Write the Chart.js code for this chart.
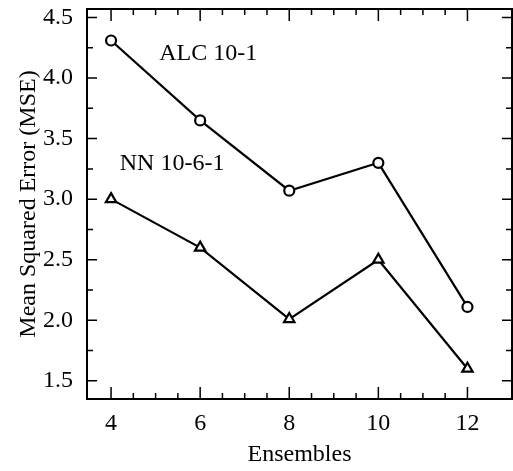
<!DOCTYPE html>
<html>
<head>
<meta charset="utf-8">
<script src="https://cdn.jsdelivr.net/npm/chart.js"></script>
<style>
  html, body { margin: 0; padding: 0; background: #fff; overflow: hidden; }
  canvas { display: block; }
</style>
</head>
<body>
<canvas id="mseChart" width="513" height="471"></canvas>
<script>
// data
const ensembles = [4, 6, 8, 10, 12];
const alcMse = [4.31, 3.65, 3.07, 3.30, 2.11];
const nnMse = [3.00, 2.60, 2.01, 2.50, 1.60];
const xTicks = [4, 6, 8, 10, 12];
const yTicks = [1.5, 2.0, 2.5, 3.0, 3.5, 4.0, 4.5];
const seriesNames = ["ALC 10-1", "NN 10-6-1"];

const serif = '"Liberation Serif", "Times New Roman", serif';

function toPoints(ys) {
  return ensembles.map((e, i) => ({ x: e, y: ys[i] }));
}

// box around the plot with inward ticks, plus the in-plot series labels
const framePlugin = {
  id: 'frame',
  afterDraw(chart) {
    const { ctx, chartArea: a, scales: { x, y } } = chart;
    ctx.save();
    ctx.strokeStyle = '#000';
    ctx.lineWidth = 2;
    ctx.strokeRect(a.left, a.top, a.right - a.left, a.bottom - a.top);

    ctx.lineWidth = 1.5;
    ctx.beginPath();
    for (let v = 4; v <= 12.001; v += 0.5) {
      const px = x.getPixelForValue(v);
      const len = v % 2 === 0 ? 12 : 6;
      ctx.moveTo(px, a.bottom); ctx.lineTo(px, a.bottom - len);
      ctx.moveTo(px, a.top); ctx.lineTo(px, a.top + len);
    }
    for (let v = 1.5; v <= 4.501; v += 0.25) {
      const py = y.getPixelForValue(v);
      const len = Math.abs(v * 2 - Math.round(v * 2)) < 0.01 ? 10 : 6;
      ctx.moveTo(a.left, py); ctx.lineTo(a.left + len, py);
      ctx.moveTo(a.right, py); ctx.lineTo(a.right - len, py);
    }
    ctx.stroke();

    ctx.fillStyle = '#000';
    ctx.font = '24px ' + serif;
    ctx.textAlign = 'center';
    ctx.textBaseline = 'middle';
    ctx.fillText(seriesNames[0], x.getPixelForValue(6.18), y.getPixelForValue(4.20));
    ctx.fillText(seriesNames[1], x.getPixelForValue(5.37), y.getPixelForValue(3.29));
    ctx.restore();
  }
};

const mseChart = new Chart(document.getElementById('mseChart'), {
  type: 'line',
  data: {
    datasets: [
      {
        label: seriesNames[0],
        data: toPoints(alcMse),
        borderColor: '#000',
        borderWidth: 2.2,
        backgroundColor: '#fff',
        pointStyle: 'circle',
        pointRadius: 5,
        pointBorderWidth: 2.2,
        pointBorderColor: '#000',
        pointBackgroundColor: '#fff',
        tension: 0
      },
      {
        label: seriesNames[1],
        data: toPoints(nnMse),
        borderColor: '#000',
        borderWidth: 2.2,
        backgroundColor: '#fff',
        pointStyle: 'triangle',
        pointRadius: 6,
        pointBorderWidth: 2.2,
        pointBorderColor: '#000',
        pointBackgroundColor: '#fff',
        tension: 0
      }
    ]
  },
  options: {
    responsive: false,
    animation: false,
    layout: { autoPadding: false, padding: { top: 9, right: 1, left: 0, bottom: 0 } },
    plugins: {
      legend: { display: false },
      tooltip: { enabled: false }
    },
    scales: {
      x: {
        type: 'linear',
        min: 3.46,
        max: 13.0,
        grid: { display: false, drawTicks: false },
        border: { display: false },
        afterBuildTicks: (s) => { s.ticks = xTicks.map(v => ({ value: v })); },
        afterFit: (s) => { s.height = 72; s.paddingLeft = 0; s.paddingRight = 0; },
        ticks: {
          color: '#000',
          padding: 10,
          maxRotation: 0,
          font: { family: serif, size: 24 }
        },
        title: {
          display: true,
          text: 'Ensembles',
          color: '#000',
          padding: 2,
          font: { family: serif, size: 24 }
        }
      },
      y: {
        min: 1.35,
        max: 4.57,
        grid: { display: false, drawTicks: false },
        border: { display: false },
        afterBuildTicks: (s) => { s.ticks = yTicks.map(v => ({ value: v })); },
        afterFit: (s) => { s.width = 87; s.paddingTop = 0; s.paddingBottom = 0; },
        ticks: {
          color: '#000',
          padding: 14,
          callback: (v) => Number(v).toFixed(1),
          font: { family: serif, size: 24 }
        },
        title: {
          display: true,
          text: 'Mean Squared Error (MSE)',
          color: '#000',
          padding: 14,
          font: { family: serif, size: 24 }
        }
      }
    }
  },
  plugins: [framePlugin]
});
</script>
</body>
</html>
